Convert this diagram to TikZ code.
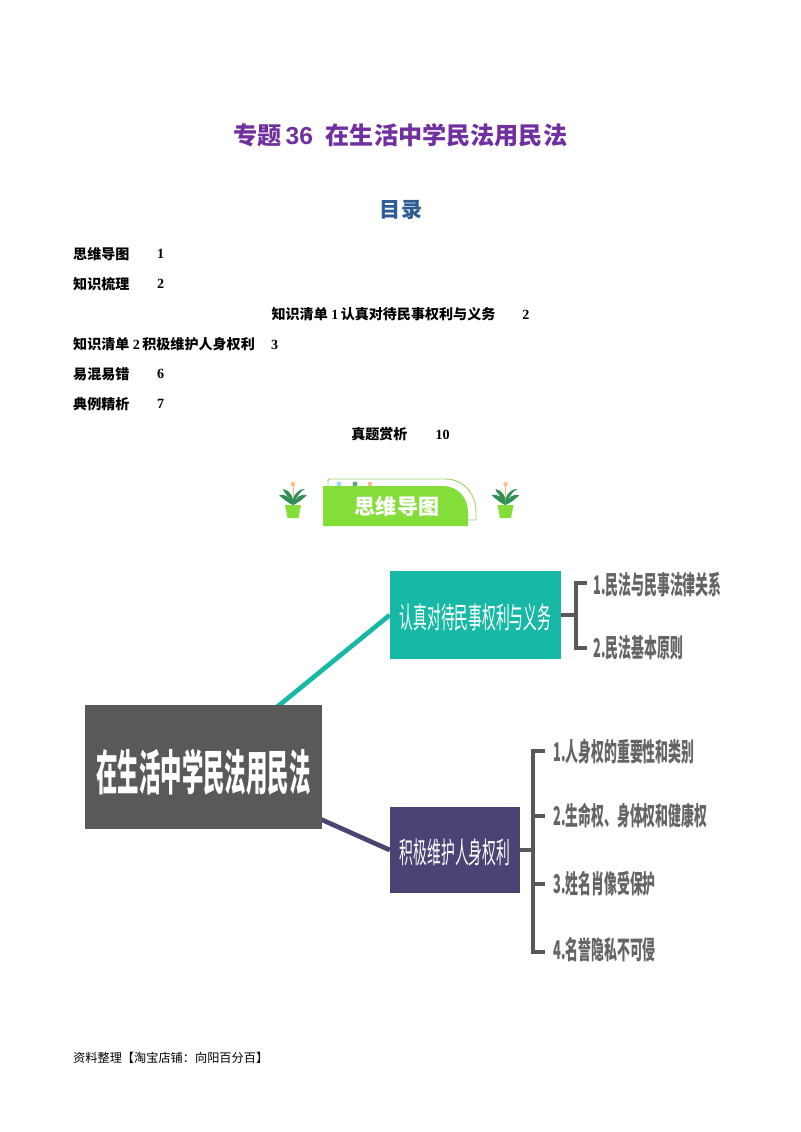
\documentclass[tikz,border=0pt]{standalone}
\usepackage{graphicx}
\usepackage{fontspec}
\usetikzlibrary{backgrounds,calc}
\newfontfamily\cjk{Noto Sans CJK SC}
\newfontfamily\digits{Liberation Serif}
\newfontfamily\sansdigits{Liberation Sans}
\newcommand{\squeezed}[2]{\scalebox{#1}[1]{#2}}
\definecolor{titlepurple}{HTML}{7030A0}
\definecolor{tocblue}{HTML}{2F5C94}
\definecolor{rootgray}{HTML}{595959}
\definecolor{leafgray}{HTML}{646464}
\definecolor{mapteal}{HTML}{17B9A6}
\definecolor{mappurple}{HTML}{4A4373}
\definecolor{bannergreen}{HTML}{84DE3A}
\definecolor{edgegreen}{HTML}{A3CF6E}
\definecolor{leafgreen}{HTML}{2F8F57}
\tikzset{
    toc/.style={anchor=west,inner sep=0pt,font=\cjk\bfseries\fontsize{12}{14}\selectfont},
    topic/.style={draw=none,text=white,inner sep=0pt,minimum height=1em},
    leaf/.style={anchor=west,inner sep=0pt,text=leafgray,font=\cjk\bfseries\fontsize{22}{26}\selectfont},
    branch/.style={line width=2.6pt,rootgray},
    stem/.style={line width=3.4pt,rootgray},
    plant/.pic={
        \fill[bannergreen] (-8,6) -- (8,6) -- (5.5,19) -- (-5.5,19) -- cycle;
        \draw[orange!60,line width=0.7pt] (0,6) -- (0,-14);
        \fill[orange!50] (0,-15) circle (2.2);
        \fill[leafgreen] (0,6) .. controls (-3,-3) and (-8,-5) .. (-14,-4) .. controls (-10,0) and (-5,4) .. cycle;
        \fill[leafgreen] (0,6) .. controls (-5,-4) and (-10,-7) .. (-10,-10) .. controls (-3,-9) and (1,-2) .. cycle;
        \fill[leafgreen] (0,6) .. controls (3,-3) and (8,-5) .. (14,-4) .. controls (10,0) and (5,4) .. cycle;
        \fill[leafgreen] (0,6) .. controls (5,-5) and (8,-8) .. (12,-10) .. controls (4,-10) and (-1,-3) .. cycle;
    }
}
\begin{document}
\begin{tikzpicture}[x=0.03cm,y=-0.03cm]
    \useasboundingbox (0,0) rectangle (800,1132);

    % heading
    \node[inner sep=0pt,text=titlepurple,font=\cjk\bfseries\fontsize{20.6}{24}\selectfont] (title) at (400.5,135)
        {专题\hspace{3pt}{\sansdigits\bfseries\fontsize{21}{24}\selectfont 36}\hspace{11pt}在生活中学民法用民法};
    \node[inner sep=0pt,text=tocblue,font=\cjk\bfseries\fontsize{18}{22}\selectfont] (contents) at (401,210) {目录};

    % contents list
    \node[toc] (toca) at (73,254) {思维导图};
    \node[toc] (tocanum) at (157,254) {{\digits 1}};
    \node[toc] (tocb) at (73,284) {知识梳理};
    \node[toc] (tocbnum) at (157,284) {{\digits 2}};
    \node[toc,anchor=center] (tocc) at (400.5,314) {知识清单{\digits\ 1\,}认真对待民事权利与义务{\digits\hspace{23pt}2}};
    \node[toc] (tocd) at (73,344) {知识清单{\digits\ 2\,}积极维护人身权利{\digits\hspace{14pt}3}};
    \node[toc] (toce) at (73,374) {易混易错};
    \node[toc] (tocenum) at (157,374) {{\digits 6}};
    \node[toc] (tocf) at (73,404) {典例精析};
    \node[toc] (tocfnum) at (157,404) {{\digits 7}};
    \node[toc,anchor=center] (tocg) at (400.5,434) {真题赏析{\digits\hspace{24pt}10}};

    % banner
    \fill[cyan!40] (339,484) circle (2.5);
    \fill[leafgreen!80] (355,484) circle (2.5);
    \fill[orange!50] (370,484) circle (2.5);
    \draw[edgegreen,line width=0.8pt] (328,486) -- (328,481) .. controls (328,479) .. (331,479)
        -- (445,479) .. controls (465,479) and (476,495) .. (476,512) -- (476,520) -- (468,520);
    \fill[bannergreen] (323,486) -- (443,486) .. controls (458,486) and (468,498) .. (468,512)
        -- (468,526) -- (323,526) -- cycle;
    \node[inner sep=0pt,text=white,font=\cjk\bfseries\fontsize{18}{20}\selectfont] (bannertext) at (397,506) {思维导图};
    \pic at (293,499) {plant};
    \pic at (505.5,499) {plant};

    % mind map
    \node[fill=rootgray,topic,minimum width=237*0.03cm,minimum height=124*0.03cm] (root) at (203.5,767)
        {\cjk\bfseries\fontsize{41}{46}\selectfont\squeezed{0.445}{\raisebox{-4pt}[\height][\depth]{在生活中学民法用民法}}};
    \node[fill=mapteal,topic,minimum width=171*0.03cm,minimum height=88*0.03cm] (duty) at (475.5,615)
        {\cjk\fontsize{25}{30}\selectfont\squeezed{0.47}{\raisebox{-2pt}[\height][\depth]{认真对待民事权利与义务}}};
    \node[fill=mappurple,topic,minimum width=130*0.03cm,minimum height=86*0.03cm] (person) at (455,850)
        {\cjk\fontsize{25}{30}\selectfont\squeezed{0.47}{\raisebox{-2pt}[\height][\depth]{积极维护人身权利}}};

    \node[leaf] (dutya) at (593,585) {\squeezed{0.5}{1.民法与民事法律关系}};
    \node[leaf] (dutyb) at (593,648) {\squeezed{0.5}{2.民法基本原则}};
    \node[leaf] (persona) at (553,752) {\squeezed{0.5}{1.人身权的重要性和类别}};
    \node[leaf] (personb) at (553,816) {\squeezed{0.5}{2.生命权、身体权和健康权}};
    \node[leaf] (personc) at (553,884) {\squeezed{0.5}{3.姓名肖像受保护}};
    \node[leaf] (persond) at (553,950) {\squeezed{0.5}{4.名誉隐私不可侵}};

    \begin{pgfonlayer}{background}
        \draw[mapteal,line width=4pt] (root.center) -- (duty.west);
        \draw[mappurple,line width=4pt] (root.center) -- (person.west);
    \end{pgfonlayer}

    \coordinate (dutyfork) at (576,615);
    \coordinate (personfork) at (533,850);
    \draw[stem] (duty.east) -- (dutyfork);
    \draw[branch] ($(dutya.west)+(-6,-2)$) -| (dutyfork) |- ($(dutyb.west)+(-6,0)$);
    \draw[stem] (person.east) -- (personfork);
    \draw[branch] ($(persona.west)+(-8,-1)$) -| (personfork) |- ($(persond.west)+(-8,2)$);
    \draw[branch] (personfork |- personb.west) -- ($(personb.west)+(-8,0)$);
    \draw[branch] (personfork |- personc.west) -- ($(personc.west)+(-8,0)$);

    % footer
    \node[anchor=west,inner sep=0pt,font=\cjk\fontsize{10.4}{13}\selectfont] (footer) at (73,1058) {资料整理【淘宝店铺：向阳百分百】};
\end{tikzpicture}
\end{document}
